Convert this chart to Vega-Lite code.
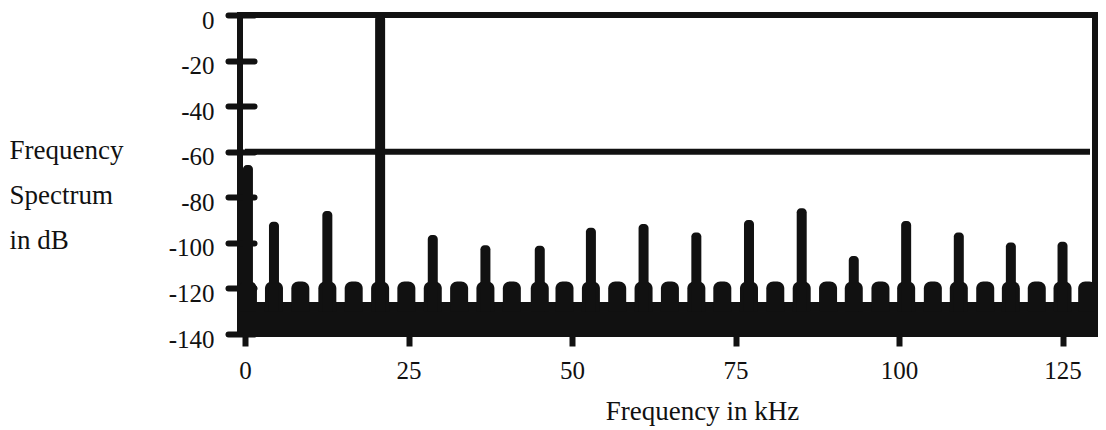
{
  "$schema": "https://vega.github.io/schema/vega-lite/v6.json",
  "width": 855,
  "height": 319,
  "autosize": {"type": "none"},
  "padding": {"left": 240, "top": 15, "right": 11, "bottom": 96},
  "background": "white",
  "view": {"stroke": "#111111", "strokeWidth": 6},
  "config": {
    "font": "Liberation Serif",
    "axis": {"labelFont": "Liberation Serif", "titleFont": "Liberation Serif", "labelColor": "#111111", "titleColor": "#111111", "tickColor": "#111111", "grid": false, "domain": false}
  },
  "datasets": {
    "floor": [{"f": -1, "f2": 130.2, "db": -141, "db2": -126}],
    "bumps": [
      {"f": 0.45, "db": -117}, {"f": 4.43, "db": -117}, {"f": 8.46, "db": -117}, {"f": 12.59, "db": -117},
      {"f": 16.62, "db": -117}, {"f": 20.66, "db": -117}, {"f": 24.67, "db": -117}, {"f": 28.71, "db": -117},
      {"f": 32.74, "db": -117}, {"f": 36.76, "db": -117}, {"f": 40.8, "db": -117}, {"f": 45.07, "db": -117},
      {"f": 48.85, "db": -117}, {"f": 52.89, "db": -117}, {"f": 56.91, "db": -117}, {"f": 60.94, "db": -117},
      {"f": 64.97, "db": -117}, {"f": 69.01, "db": -117}, {"f": 72.98, "db": -117}, {"f": 77.06, "db": -117},
      {"f": 81.08, "db": -117}, {"f": 85.12, "db": -117}, {"f": 89.15, "db": -117}, {"f": 93.08, "db": -117},
      {"f": 97.16, "db": -117}, {"f": 101.09, "db": -117}, {"f": 105.17, "db": -117}, {"f": 109.14, "db": -117},
      {"f": 113.18, "db": -117}, {"f": 117.1, "db": -117}, {"f": 121.06, "db": -117}, {"f": 125.0, "db": -117},
      {"f": 128.77, "db": -117}
    ],
    "peaks": [
      {"f": 0.45, "db": -65.8}, {"f": 4.43, "db": -90.7}, {"f": 12.59, "db": -86.0}, {"f": 20.66, "db": 0},
      {"f": 28.71, "db": -96.6}, {"f": 36.76, "db": -101.0}, {"f": 45.07, "db": -101.3}, {"f": 52.89, "db": -93.4},
      {"f": 60.94, "db": -91.7}, {"f": 69.01, "db": -95.4}, {"f": 77.06, "db": -90.0}, {"f": 85.12, "db": -84.8},
      {"f": 93.08, "db": -105.8}, {"f": 101.09, "db": -90.4}, {"f": 109.14, "db": -95.4}, {"f": 117.1, "db": -99.8},
      {"f": 125.0, "db": -99.5}
    ],
    "limit": [{"f": 0, "f2": 129.2, "db": -60}]
  },
  "encoding": {
    "x": {"field": "f", "type": "quantitative", "scale": {"domain": [0, 129.2], "nice": false, "zero": false},
      "axis": {"values": [0, 25, 50, 75, 100, 125], "tickSize": 12, "tickWidth": 6, "labelPadding": 12, "labelFontSize": 25,
        "title": "Frequency in kHz", "titleFontSize": 27, "titleFontWeight": "normal", "titleX": 462, "titleY": 85, "titleBaseline": "alphabetic", "titleAlign": "center"}},
    "y": {"field": "db", "type": "quantitative", "scale": {"domain": [-140, 0], "nice": false, "zero": false},
      "axis": {"values": [0, -20, -40, -60, -80, -100, -120, -140], "offset": -14, "tickSize": 26, "tickWidth": 6, "tickCap": "round",
        "labelPadding": 14, "labelFontSize": 25, "labelOffset": 5, "labelExpr": "'' + datum.value",
        "title": ["Frequency", "Spectrum", "in dB"], "titleFontSize": 27, "titleFontWeight": "normal", "titleAngle": 0,
        "titleAlign": "left", "titleBaseline": "alphabetic", "titleX": -245, "titleY": 143, "titleLineHeight": 45}}
  },
  "layer": [
    {
      "data": {"name": "floor"},
      "mark": {"type": "rect", "color": "#111111", "clip": true},
      "encoding": {"x2": {"field": "f2"}, "y2": {"field": "db2"}}
    },
    {
      "data": {"name": "bumps"},
      "mark": {"type": "bar", "size": 18, "color": "#111111", "cornerRadiusTopLeft": 7, "cornerRadiusTopRight": 7, "clip": true},
      "encoding": {"y2": {"datum": -130}}
    },
    {
      "data": {"name": "peaks"},
      "mark": {"type": "bar", "size": 10, "color": "#111111", "cornerRadiusTopLeft": 4, "cornerRadiusTopRight": 4},
      "encoding": {"y2": {"datum": -130}}
    },
    {
      "data": {"name": "limit"},
      "mark": {"type": "rule", "color": "#111111", "strokeWidth": 6},
      "encoding": {"x2": {"field": "f2"}}
    }
  ]
}
